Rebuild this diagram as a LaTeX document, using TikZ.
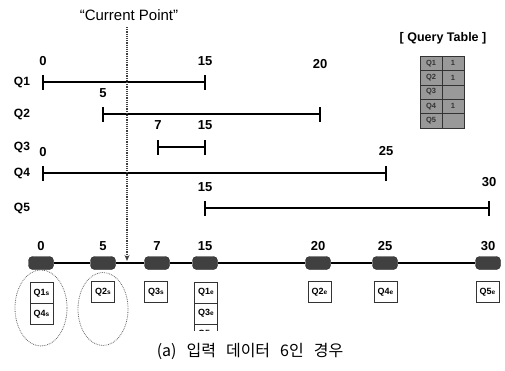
\documentclass[tikz,border=0pt]{standalone}
\usepackage{fontspec}
\setmainfont{Liberation Sans}
\newfontfamily\cjk{Noto Sans CJK KR}
\usetikzlibrary{shapes.geometric,arrows.meta}
\tikzset{
  bar/.style={line width=2.4pt},
  tickmark/.style={line width=2pt},
  numlab/.style={font=\fontsize{13}{14}\selectfont\bfseries, inner sep=0pt},
  qlab/.style={font=\fontsize{12}{14}\selectfont\bfseries, inner sep=0pt},
  block/.style={rectangle, rounded corners=4pt, fill=black!75, draw=black!85, minimum width=25pt, minimum height=13pt, inner sep=0pt},
  qbox/.style={draw=black!80, line width=0.6pt, minimum width=23pt, minimum height=21pt, inner sep=0pt, font=\fontsize{9}{10}\selectfont\bfseries},
  cell/.style={draw=black!80, fill=black!40, minimum width=22pt, minimum height=14.4pt, inner sep=0pt, font=\fontsize{7.5}{8}\selectfont\bfseries, text=black!80},
  dots/.style={densely dotted, line width=1.2pt, black!75},
  circ/.style={ellipse, draw=black!60, densely dotted, line width=0.8pt, inner sep=0pt}
}
\newcommand{\sub}[1]{{\fontsize{6.5}{7}\selectfont #1}}
\begin{document}
\begin{tikzpicture}[x=1pt,y=-1pt]
\useasboundingbox (0,0) rectangle (505,370);
% Current point
\node[font=\fontsize{15}{16}\selectfont, inner sep=0pt] (cp) at (129,15) {“Current Point”};
\coordinate (cptop) at (127,27);
% intervals
\foreach \n/\a/\b/\y in {1/43/205/82, 2/103/320/114, 3/158/205/147, 4/43/386/173, 5/205/489/208}{
  \coordinate (s\n) at (\a,\y);
  \coordinate (e\n) at (\b,\y);
  \draw[bar] (s\n) -- (e\n);
  \draw[tickmark] ([yshift=-7.5pt]s\n) -- ([yshift=7.5pt]s\n);
  \draw[tickmark] ([yshift=-7.5pt]e\n) -- ([yshift=7.5pt]e\n);
  \node[qlab] (ql\n) at (22,\y) {Q\n};
}
\node[numlab] (n1a) at (43,61) {0};
\node[numlab] (n1b) at (205,61) {15};
\node[numlab] (n2a) at (103,93) {5};
\node[numlab] (n2b) at (320,64) {20};
\node[numlab] (n3a) at (158,125) {7};
\node[numlab] (n3b) at (205,125) {15};
\node[numlab] (n4a) at (43,152) {0};
\node[numlab] (n4b) at (386,151) {25};
\node[numlab] (n5a) at (205,187) {15};
\node[numlab] (n5b) at (489,182) {30};
% Query table
\node[font=\fontsize{12.5}{14}\selectfont\bfseries, inner sep=0pt] (qt) at (443,38) {[ Query Table ]};
\foreach \r/\v [count=\i] in {Q1/1, Q2/1, Q3/{}, Q4/1, Q5/{}}{
  \node[cell] (ta\i) at (431,{56+7.2+(\i-1)*14.4}) {\r};
  \node[cell] (tb\i) at (453,{56+7.2+(\i-1)*14.4}) {\v};
}
% timeline blocks
\foreach \v/\x in {0/41, 5/103, 7/157, 15/205, 20/318, 25/385, 30/488}{
  \node[block] (b\v) at (\x,263) {};
  \node[numlab] (t\v) at (\x,246) {\v};
}
\foreach \p/\q in {0/5, 5/7, 7/15, 15/20, 20/25, 25/30}{
  \draw[line width=1.1pt] (b\p.east) -- (b\q.west);
}
% current point arrow
\coordinate (cpbot) at (127,261);
\draw[dots, -{Stealth[length=6pt,width=5pt]}] (cptop) -- (cpbot);
% boxes
\node[qbox] (x1s) at (41.5,293) {Q1\sub{s}};
\node[qbox] (x4s) at (41.5,314) {Q4\sub{s}};
\node[qbox] (x2s) at (103,292) {Q2\sub{s}};
\node[qbox] (x3s) at (156,292) {Q3\sub{s}};
\begin{scope}
\clip (180,280) rectangle (230,330);
\node[qbox] (x1e) at (206,292.5) {Q1\sub{e}};
\node[qbox] (x3e) at (206,313.5) {Q3\sub{e}};
\node[qbox] (x5x) at (206,334.5) {Q5\sub{e}};
\end{scope}
\node[qbox] (x2e) at (319.5,292) {Q2\sub{e}};
\node[qbox] (x4e) at (385.5,292) {Q4\sub{e}};
\node[qbox] (x5e) at (487.5,292) {Q5\sub{e}};
% ellipses
\node[circ, minimum width=52pt, minimum height=76pt] (el0) at (41,308) {};
\node[circ, minimum width=50pt, minimum height=73pt] (el5) at (103,309) {};
% caption
\node[font=\cjk\fontsize{16}{17}\selectfont, inner sep=0pt] (cap) at (250,351) {(a)\hspace{10pt}입력\hspace{10pt}데이터\hspace{10pt}6인\hspace{10pt}경우};
\end{tikzpicture}
\end{document}
